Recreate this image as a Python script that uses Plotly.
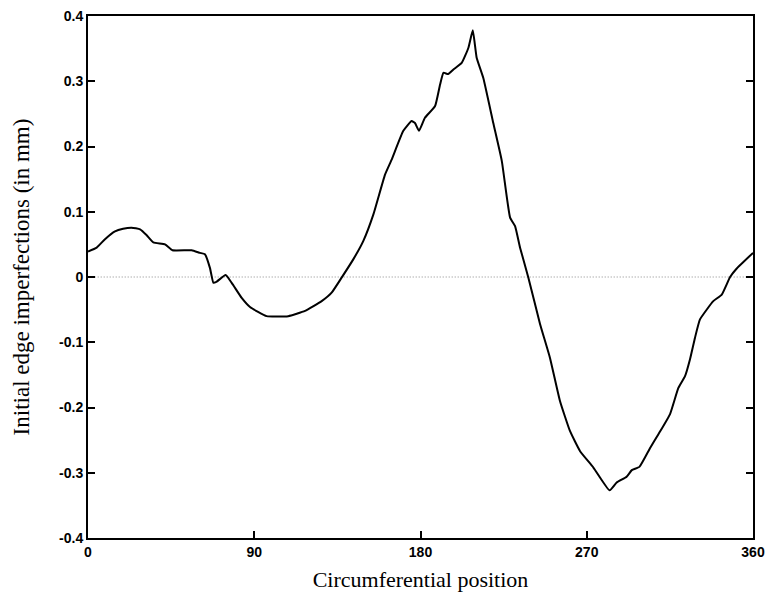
import plotly.graph_objects as go

# Measured edge imperfection profile around the circumference
position_deg = [
    0, 4.7, 9.2, 14.6, 19.0, 23.6, 28.2, 31.8, 35.4, 41.7, 45.7, 56.1, 60.6, 63.3,
    66.0, 67.9, 69.7, 74.5, 77.8, 83.2, 87.7, 96.7, 108.4, 117.5, 126.5, 131.9,
    137.3, 143.6, 149.0, 154.5, 160.8, 164.4, 170.7, 175.2, 177.0, 179.2, 182.4,
    187.9, 190.6, 192.4, 195.0, 197.8, 202.3, 205.9, 208.3, 210.4, 214.0, 219.4,
    224.0, 228.5, 231.2, 233.9, 238.4, 244.7, 250.1, 255.5, 260.9, 266.4, 273.6,
    282.4, 286.2, 291.6, 294.4, 298.5, 304.3, 308.8, 315.1, 319.6, 323.2, 325.9,
    328.6, 331.3, 338.5, 343.1, 347.6, 351.2, 360.0,
]
imperfection_mm = [
    0.039, 0.045, 0.058, 0.070, 0.074, 0.0756, 0.073, 0.064, 0.053, 0.050, 0.041,
    0.041, 0.037, 0.035, 0.014, -0.009, -0.007, 0.003, -0.009, -0.032, -0.046,
    -0.060, -0.060, -0.052, -0.037, -0.024, -0.001, 0.027, 0.055, 0.096, 0.157,
    0.180, 0.224, 0.239, 0.236, 0.224, 0.244, 0.262, 0.295, 0.313, 0.311, 0.318,
    0.328, 0.351, 0.378, 0.336, 0.305, 0.236, 0.178, 0.091, 0.078, 0.045, -0.001,
    -0.072, -0.124, -0.190, -0.236, -0.267, -0.292, -0.327, -0.315, -0.306, -0.296,
    -0.291, -0.262, -0.241, -0.210, -0.170, -0.152, -0.126, -0.093, -0.065, -0.037,
    -0.027, 0.000, 0.013, 0.037,
]

x_ticks = [0, 90, 180, 270, 360]
y_ticks = [-0.4, -0.3, -0.2, -0.1, 0, 0.1, 0.2, 0.3, 0.4]
y_tick_text = ["-0.4", "-0.3", "-0.2", "-0.1", "0", "0.1", "0.2", "0.3", "0.4"]

fig = go.Figure()

# dotted reference line at zero
fig.add_trace(go.Scatter(
    x=[2, 358], y=[0, 0], mode="lines",
    line=dict(color="#8a8a8a", width=1, dash="1px,2px"),
    hoverinfo="skip", showlegend=False,
))

fig.add_trace(go.Scatter(
    x=position_deg, y=imperfection_mm, mode="lines",
    line=dict(color="black", width=2, shape="spline", smoothing=0.4),
    showlegend=False,
))

tick_font = dict(family="Liberation Sans, Arial, sans-serif", size=14,
                 color="black", weight="bold")
serif = "Liberation Serif, Times New Roman, serif"

fig.update_layout(
    width=766, height=602,
    margin=dict(l=88, r=13, t=16, b=64),
    paper_bgcolor="white", plot_bgcolor="white",
    xaxis=dict(
        range=[0, 360], tickvals=x_ticks, ticktext=[str(v) for v in x_ticks],
        ticks="inside", ticklen=7, tickwidth=1.5, tickcolor="black",
        showline=True, linecolor="black", linewidth=2, mirror=True,
        showgrid=False, zeroline=False, tickfont=tick_font, automargin=False,
        title=dict(text="Circumferential position",
                   font=dict(family=serif, size=22, color="black"), standoff=13),
    ),
    yaxis=dict(
        range=[-0.4, 0.4], tickvals=y_ticks, ticktext=y_tick_text,
        ticks="inside", ticklen=7, tickwidth=1.5, tickcolor="black",
        showline=True, linecolor="black", linewidth=2, mirror="ticks",
        showgrid=False, zeroline=False, tickfont=tick_font, automargin=False,
        title=dict(text="Initial edge imperfections (in mm)",
                   font=dict(family=serif, size=23, color="black"), standoff=23),
    ),
)

fig.write_html("out.html")
